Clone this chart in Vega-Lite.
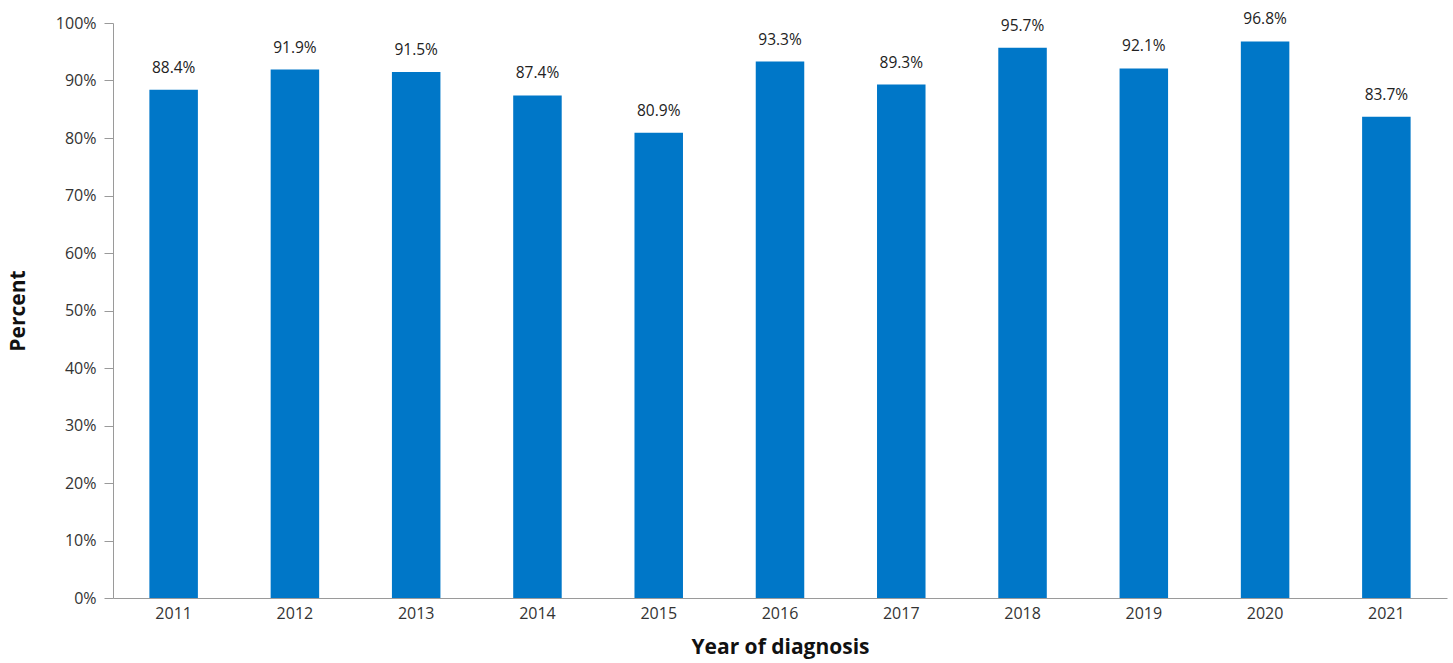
{
  "$schema": "https://vega.github.io/schema/vega-lite/v6.json",
  "autosize": {"type": "none"},
  "width": 1334,
  "height": 575,
  "padding": {"left": 113, "top": 23, "right": 6, "bottom": 65},
  "background": "white",
  "config": {
    "font": "Open Sans",
    "view": {"stroke": null}
  },
  "data": {
    "values": [
      {"year": "2011", "pct": 0.884},
      {"year": "2012", "pct": 0.919},
      {"year": "2013", "pct": 0.915},
      {"year": "2014", "pct": 0.874},
      {"year": "2015", "pct": 0.809},
      {"year": "2016", "pct": 0.933},
      {"year": "2017", "pct": 0.893},
      {"year": "2018", "pct": 0.957},
      {"year": "2019", "pct": 0.921},
      {"year": "2020", "pct": 0.968},
      {"year": "2021", "pct": 0.837}
    ]
  },
  "encoding": {
    "x": {
      "field": "year",
      "type": "nominal",
      "title": "Year of diagnosis",
      "scale": {"paddingInner": 0.6, "paddingOuter": 0.3},
      "axis": {
        "labelAngle": 0,
        "labelFont": "Open Sans",
        "labelFontSize": 16,
        "labelColor": "#333333",
        "labelPadding": 7,
        "ticks": false,
        "domainColor": "#9a9a9a",
        "titleFont": "Open Sans",
        "titleFontSize": 21,
        "titleFontWeight": "bold",
        "titleColor": "#111111",
        "titlePadding": 15
      }
    }
  },
  "layer": [
    {
      "mark": {"type": "bar", "color": "#0077C8"},
      "encoding": {
        "y": {
          "field": "pct",
          "type": "quantitative",
          "title": "Percent",
          "scale": {"domain": [0, 1], "nice": false},
          "axis": {
            "format": ".0%",
            "values": [0, 0.1, 0.2, 0.3, 0.4, 0.5, 0.6, 0.7, 0.8, 0.9, 1],
            "grid": false,
            "labelFont": "Open Sans",
            "labelFontSize": 16,
            "labelColor": "#333333",
            "labelPadding": 8,
            "tickSize": 9,
            "tickColor": "#9a9a9a",
            "domainColor": "#9a9a9a",
            "titleFont": "Open Sans",
            "titleFontSize": 21,
            "titleFontWeight": "bold",
            "titleColor": "#111111",
            "titlePadding": 27
          }
        }
      }
    },
    {
      "mark": {"type": "text", "baseline": "bottom", "dy": -14, "font": "Open Sans", "fontSize": 15.5, "color": "#222222"},
      "encoding": {
        "y": {"field": "pct", "type": "quantitative"},
        "text": {"field": "pct", "type": "quantitative", "format": ".1%"}
      }
    }
  ]
}
